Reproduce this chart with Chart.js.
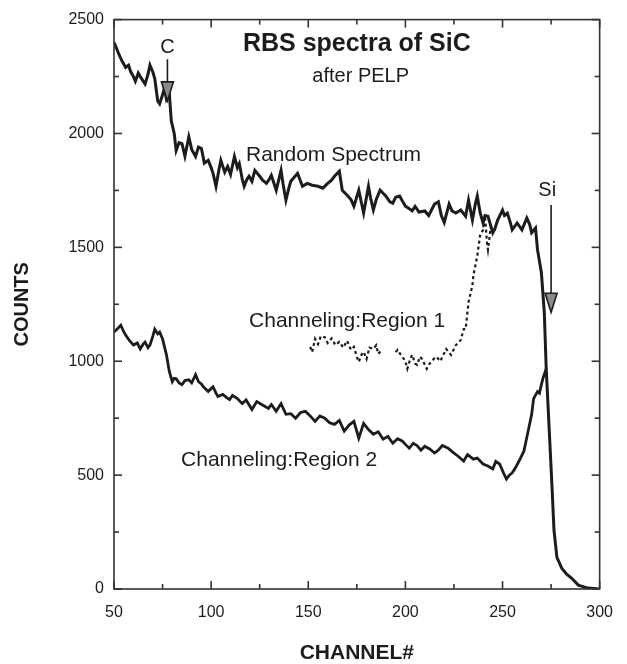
<!DOCTYPE html>
<html>
<head>
<meta charset="utf-8">
<title>RBS spectra of SiC</title>
<script src="https://cdn.jsdelivr.net/npm/chart.js@4.4.1/dist/chart.umd.min.js"></script>
<style>
  html, body { margin: 0; padding: 0; background: #fff; }
  #wrap { width: 627px; height: 664px; }
</style>
</head>
<body>
<div id="wrap"><canvas id="rbs" width="627" height="664"></canvas></div>
<script>
// channel / counts
const randomCh = [
  50, 51.5, 52.5, 54, 56, 57.5, 58.5, 60, 61, 62.5, 63.5, 65, 66, 67.5, 68.5, 70, 71, 72.5, 73.5, 75,
  76, 77, 78.5, 79.5, 81, 82, 83.5, 85, 86.5, 88.5, 90, 92, 93.5, 95, 96.5, 98.5, 100, 101, 102.5, 104,
  105, 107, 108.5, 110, 112, 113.5, 114.5, 116, 117, 118.5, 119.5, 121, 122.5, 125, 126.5, 128.5, 130, 131, 133.5, 136,
  137, 138.5, 140, 141, 143, 144.5, 147, 149.5, 152, 155, 157.5, 160, 162, 163.5, 166, 167.5, 170, 172, 173.5, 176,
  178.5, 181, 182, 183.5, 185, 187, 190, 192, 193.5, 195, 197, 200, 202, 203.5, 205, 207, 210, 212, 213.5, 215,
  217, 218.5, 220, 222.5, 224, 226, 228.5, 231, 232.5, 234.5, 236, 237, 238.5, 240, 241, 242.5, 245, 246, 247.5, 250,
  251, 252.5, 254, 255, 257.5, 260, 262.5, 264, 265, 267, 268, 270, 271.5, 272.5, 274, 275.5, 276.5, 278, 280.5, 283,
  285.5, 289, 294, 300
];
const randomCounts = [
  2400, 2370, 2348, 2320, 2290, 2300, 2273, 2250, 2230, 2265, 2250, 2230, 2217, 2260, 2300, 2270, 2240, 2143, 2130, 2170,
  2200, 2150, 2173, 2055, 2000, 1925, 1960, 1955, 1900, 1985, 1930, 1899, 1940, 1934, 1870, 1882, 1850, 1825, 1768, 1840,
  1882, 1830, 1855, 1820, 1899, 1850, 1868, 1800, 1768, 1800, 1812, 1790, 1838, 1812, 1795, 1781, 1800, 1816, 1751, 1838,
  1780, 1707, 1760, 1790, 1810, 1825, 1768, 1781, 1773, 1768, 1760, 1781, 1795, 1812, 1834, 1751, 1729, 1710, 1681, 1751,
  1651, 1768, 1720, 1664, 1710, 1751, 1725, 1700, 1694, 1720, 1725, 1681, 1670, 1660, 1680, 1655, 1660, 1640, 1665, 1690,
  1700, 1640, 1610, 1690, 1660, 1651, 1664, 1637, 1707, 1620, 1690, 1725, 1651, 1607, 1640, 1637, 1564, 1580, 1620, 1664,
  1640, 1650, 1610, 1577, 1607, 1577, 1629, 1600, 1564, 1585, 1490, 1390, 1215, 967, 706, 444, 257, 139, 91, 65,
  48, 17, 4, 0
];

const region1Ch = [
  151, 152, 153.5, 155, 156.5, 158.5, 160, 162, 164, 166, 168, 170, 172, 173.5, 175, 176, 177.5, 178.5, 180, 181.5,
  183.5, 185, 186, 188, 191, 195, 196, 197.5, 198.5, 200, 201, 202.5, 203.5, 205, 206, 207.5, 208.5, 210, 211, 212.5,
  213.5, 215, 216, 218, 221, 223.5, 226, 228.5, 230, 231, 232.5, 234.5, 235, 236, 237, 238.5, 240, 241, 242, 242.5,
  244, 245
];
const region1Counts = [
  1063, 1040, 1098, 1075, 1110, 1106, 1080, 1100, 1071, 1085, 1060, 1090, 1050, 1063, 1020, 997, 1030, 1041, 1010, 1060,
  1054, 1070, 1032, 1050, null, 1040, 1050, 1030, 1019, 1000, 967, 1010, 1028, 990, 984, 1020, 1010, 985, 967, 990,
  997, 1015, 1019, 1000, 1054, 1028, 1071, 1093, 1141, 1141, 1259, 1333, 1376, 1420, 1463, 1555, 1577, 1637, 1520, 1490,
  1594, 1600
];

const region2Ch = [
  50, 51.5, 53.5, 55, 56, 58, 60, 62, 63.5, 65, 66, 67.5, 68.5, 70, 71, 72.5, 73.5, 75, 77, 78.5,
  80, 81, 82, 83.5, 85, 86.5, 88.5, 90, 92, 93.5, 95, 96, 98.5, 100, 101, 102.5, 103.5, 106, 108, 109.5,
  111, 113.5, 116, 118, 121, 123.5, 126, 128, 129.5, 131, 133.5, 136, 138.5, 141, 143.5, 146, 148.5, 151, 153.5, 156,
  158.5, 161, 163.5, 166, 168.5, 171, 173.5, 176, 178.5, 181, 183.5, 186, 188.5, 191, 193.5, 196, 198.5, 200, 202, 204,
  206, 208, 210, 212.5, 215, 217, 219, 222, 224.5, 227, 230, 232, 235, 237, 240, 242.5, 245, 246.5, 248.5, 250.5,
  252, 253.5, 255, 256.5, 258.5, 261, 263.5, 265, 266, 268, 269, 270, 271, 272.5
];
const region2Counts = [
  1128, 1140, 1158, 1130, 1115, 1090, 1071, 1080, 1054, 1075, 1084, 1060, 1071, 1110, 1141, 1120, 1128, 1098, 1028, 954,
  910, 925, 923, 905, 897, 915, 919, 905, 941, 910, 900, 888, 867, 880, 888, 860, 845, 854, 840, 832,
  850, 836, 814, 830, 788, 823, 810, 800, 793, 810, 780, 814, 767, 770, 750, 775, 780, 760, 736, 760,
  750, 730, 723, 740, 693, 720, 736, 662, 727, 700, 679, 690, 658, 670, 640, 660, 649, 635, 618, 640,
  630, 610, 627, 615, 597, 610, 630, 618, 600, 584, 562, 590, 570, 575, 549, 540, 527, 560, 549, 510,
  483, 500, 510, 530, 562, 605, 706, 767, 836, 867, 860, 897, 930, 967
];

const xTicks = { min: 50, max: 300, step: 25, labelEvery: 50 };
const yTicks = { min: 0, max: 2500, step: 250, labelEvery: 500 };

const toPoints = (xs, ys) => xs.map((x, i) => ({ x, y: ys[i] }));

const FONT = "'Liberation Sans', Arial, Helvetica, sans-serif";
const INK = "#1c1c1c";

// free text inside the frame, placed in data units
const notes = [
  { text: "RBS spectra of SiC", ch: 175, counts: 2391, font: `bold 25px ${FONT}` },
  { text: "after PELP", ch: 177, counts: 2252, font: `20px ${FONT}` },
  { text: "Random Spectrum", ch: 163, counts: 1903, font: `21px ${FONT}` },
  { text: "Channeling:Region 1", ch: 170, counts: 1176, font: `21px ${FONT}` },
  { text: "Channeling:Region 2", ch: 135, counts: 566, font: `21px ${FONT}` },
  { text: "C", ch: 77.5, counts: 2378, font: `20px ${FONT}` },
  { text: "Si", ch: 273, counts: 1751, font: `20px ${FONT}` }
];
const arrows = [
  { ch: 77.5, from: 2326, to: 2143 },
  { ch: 275, from: 1686, to: 1215 }
];

const annotate = {
  id: "annotate",
  afterDatasetsDraw(chart) {
    const { ctx, scales: { x, y } } = chart;
    ctx.save();
    ctx.fillStyle = INK;
    ctx.textAlign = "center";
    ctx.textBaseline = "middle";
    notes.forEach((n) => {
      ctx.font = n.font;
      ctx.fillText(n.text, x.getPixelForValue(n.ch), y.getPixelForValue(n.counts));
    });
    ctx.strokeStyle = INK;
    ctx.lineWidth = 1.6;
    arrows.forEach((a) => {
      const px = x.getPixelForValue(a.ch);
      const y0 = y.getPixelForValue(a.from);
      const y1 = y.getPixelForValue(a.to);
      ctx.beginPath();
      ctx.moveTo(px, y0);
      ctx.lineTo(px, y1 - 18);
      ctx.stroke();
      ctx.beginPath();
      ctx.moveTo(px - 6, y1 - 19);
      ctx.lineTo(px + 6, y1 - 19);
      ctx.lineTo(px, y1);
      ctx.closePath();
      ctx.fillStyle = "#8a8a8a";
      ctx.fill();
      ctx.stroke();
    });
    ctx.restore();
  }
};

// boxed frame with inward ticks on all four sides
const frame = {
  id: "frame",
  afterDatasetsDraw(chart) {
    const { ctx, chartArea: a, scales: { x, y } } = chart;
    const seg = (x1, y1, x2, y2) => { ctx.beginPath(); ctx.moveTo(x1, y1); ctx.lineTo(x2, y2); ctx.stroke(); };
    ctx.save();
    ctx.strokeStyle = "#333";
    ctx.lineWidth = 1.6;
    ctx.strokeRect(a.left, a.top, a.right - a.left, a.bottom - a.top);
    x.ticks.forEach((t) => {
      const px = x.getPixelForValue(t.value);
      const len = t.value % xTicks.labelEvery === 0 ? 8 : 5;
      seg(px, a.bottom, px, a.bottom - len);
      seg(px, a.top, px, a.top + len);
    });
    y.ticks.forEach((t) => {
      const py = y.getPixelForValue(t.value);
      const len = t.value % yTicks.labelEvery === 0 ? 8 : 5;
      seg(a.left, py, a.left + len, py);
      seg(a.right, py, a.right - len, py);
    });
    ctx.restore();
  }
};

const whiteBg = {
  id: "whiteBg",
  beforeDraw(chart) {
    const { ctx, width, height } = chart;
    ctx.save();
    ctx.fillStyle = "#fff";
    ctx.fillRect(0, 0, width, height);
    ctx.restore();
  }
};

new Chart(document.getElementById("rbs"), {
  type: "line",
  data: {
    datasets: [
      {
        label: "Random Spectrum",
        data: toPoints(randomCh, randomCounts),
        borderColor: INK,
        borderWidth: 3,
        pointRadius: 0,
        tension: 0
      },
      {
        label: "Channeling:Region 1",
        data: toPoints(region1Ch, region1Counts),
        borderColor: INK,
        borderWidth: 2.2,
        borderDash: [3, 3],
        pointRadius: 0,
        spanGaps: false,
        tension: 0
      },
      {
        label: "Channeling:Region 2",
        data: toPoints(region2Ch, region2Counts),
        borderColor: INK,
        borderWidth: 2.8,
        pointRadius: 0,
        tension: 0
      }
    ]
  },
  options: {
    responsive: false,
    animation: false,
    devicePixelRatio: 1,
    layout: { padding: { top: 15, right: 15, left: 0, bottom: 0 } },
    plugins: { legend: { display: false }, tooltip: { enabled: false } },
    scales: {
      x: {
        type: "linear",
        min: xTicks.min,
        max: xTicks.max,
        border: { display: false },
        grid: { display: false, drawTicks: false },
        ticks: {
          stepSize: xTicks.step,
          autoSkip: false,
          maxRotation: 0,
          padding: 14,
          color: INK,
          font: { family: FONT, size: 16 },
          callback: (v) => (v % xTicks.labelEvery === 0 ? v : "")
        },
        title: {
          display: true,
          text: "CHANNEL#",
          color: INK,
          font: { family: FONT, size: 21, weight: "bold", lineHeight: 1 },
          padding: { top: 0, bottom: 0 }
        },
        afterFit: (s) => { s.height = 75; }
      },
      y: {
        type: "linear",
        min: yTicks.min,
        max: yTicks.max,
        border: { display: false },
        grid: { display: false, drawTicks: false },
        ticks: {
          stepSize: yTicks.step,
          autoSkip: false,
          padding: 10,
          color: INK,
          font: { family: FONT, size: 16 },
          callback: (v) => (v % yTicks.labelEvery === 0 ? v : "")
        },
        title: {
          display: true,
          text: "COUNTS",
          color: INK,
          font: { family: FONT, size: 20, weight: "bold", lineHeight: 1 },
          padding: { top: 12, bottom: 0 }
        },
        afterFit: (s) => { s.width = 114; }
      }
    }
  },
  plugins: [whiteBg, frame, annotate]
});
</script>
</body>
</html>
